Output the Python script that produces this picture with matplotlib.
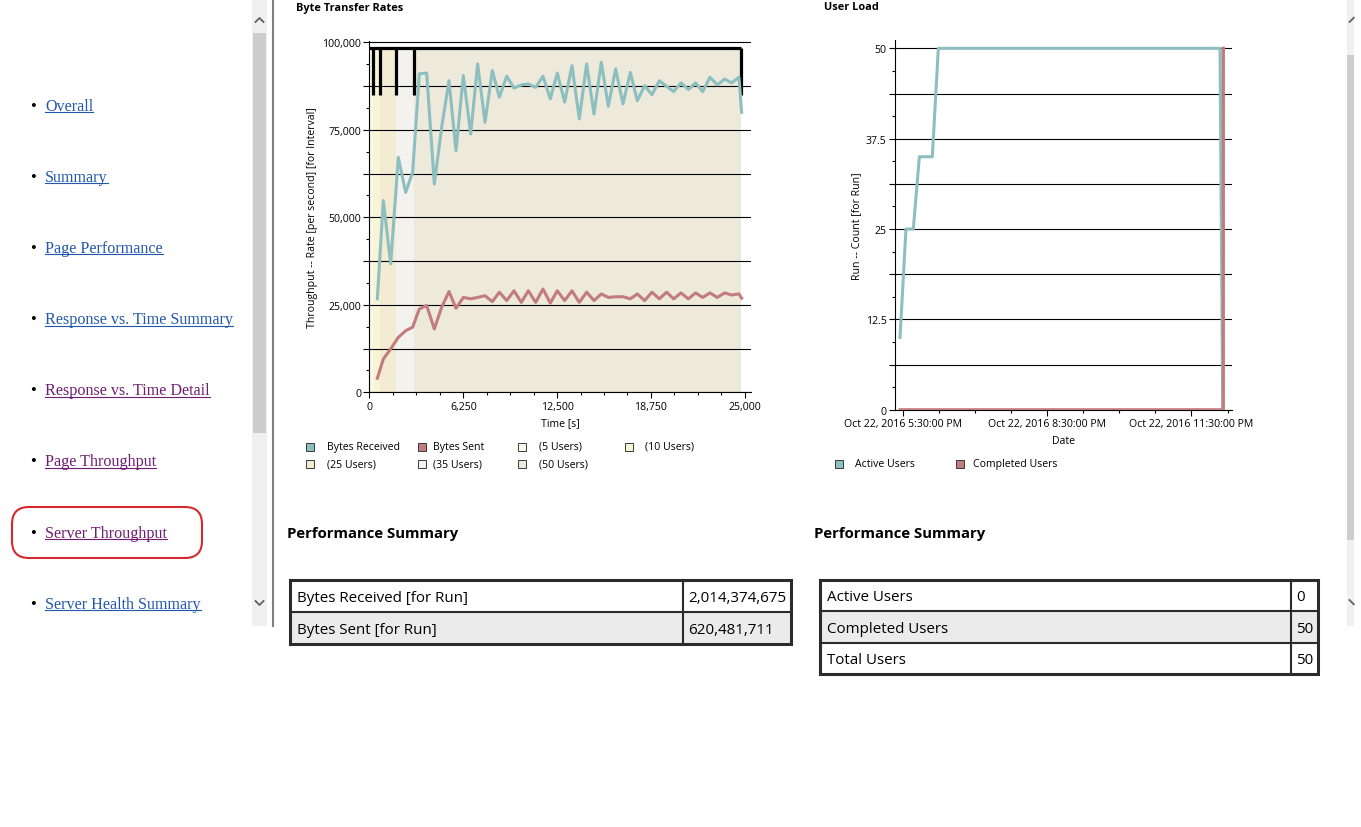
import numpy as np
import pandas as pd
import matplotlib
matplotlib.use("Agg")
import matplotlib.pyplot as plt
import matplotlib.dates as mdates
from matplotlib.patches import Rectangle, FancyBboxPatch
from matplotlib.ticker import MultipleLocator, FuncFormatter, FixedLocator

plt.rcParams['font.family'] = ['Open Sans', 'DejaVu Sans']

W, H = 1361, 828

# ---------- Byte Transfer Rates ----------
time_s = [522, 922, 1410, 1921, 2410, 2876, 3320, 3809, 4320, 4809,
          5297, 5764, 6252, 6741, 7207, 7696, 8185, 8651, 9140, 9629,
          10117, 10583, 11072, 11561, 12049, 12515, 13004, 13493, 13981, 14470,
          14959, 15447, 15914, 16402, 16891, 17380, 17846, 18335, 18823, 19312,
          19800, 20267, 20756, 21244, 21733, 22199, 22688, 23177, 23665, 24131,
          24620, 24798]
bytes_received = [26700, 54800, 36700, 67100, 57100, 62900, 91000, 91200, 59500, 75700,
                  89000, 69000, 90500, 73800, 93800, 77100, 91900, 84300, 90300, 86900,
                  87800, 88100, 87100, 90300, 83800, 91200, 82900, 93300, 78100, 93800,
                  79500, 94300, 81700, 92400, 82400, 91400, 83300, 87600, 85000, 89000,
                  87400, 85900, 88400, 86500, 88400, 85900, 90000, 87800, 89500, 88400,
                  90000, 80000]
bytes_sent = [4000, 9500, 12400, 15700, 17600, 18600, 23800, 24800, 18100, 24300,
              28800, 24000, 27100, 26700, 27100, 27600, 25900, 28600, 26200, 29000,
              25700, 29000, 25700, 29500, 25500, 29000, 26200, 29000, 25700, 28600,
              26200, 28100, 27100, 27300, 27300, 26700, 28100, 26200, 28600, 26700,
              28600, 26700, 28400, 26700, 28400, 27100, 28400, 27100, 28400, 27800,
              28100, 26900]

phase_labels = ["(5 Users)", "(10 Users)", "(25 Users)", "(35 Users)", "(50 Users)"]
phase_start = [0, 213, 700, 1786, 2985]
phase_end = [213, 700, 1786, 2985, 24773]
phase_colors = ['#FAF8EA', '#F8F5D6', '#F4EBD3', '#F3F2EE', '#EDE9DB']
marker_low, marker_top = 85000, 98500

# ---------- User Load ----------
active_times = ["2016-10-22 17:26:40", "2016-10-22 17:34:05", "2016-10-22 17:43:15",
                "2016-10-22 17:50:45", "2016-10-22 18:06:55", "2016-10-22 18:14:25",
                "2016-10-23 00:05:35", "2016-10-23 00:09:00"]
active_users = [10, 25, 25, 35, 35, 50, 50, 0]
completed_times = ["2016-10-22 17:26:40", "2016-10-23 00:09:35", "2016-10-23 00:09:40"]
completed_users = [0, 0, 50]

# ---------- summary tables ----------
left_rows = ["Bytes Received [for Run]", "Bytes Sent [for Run]"]
left_vals = [2014374675, 620481711]
right_rows = ["Active Users", "Completed Users", "Total Users"]
right_vals = [0, 50, 50]

nav_items = ["Overall", "Summary", "Page Performance", "Response vs. Time Summary",
             "Response vs. Time Detail", "Page Throughput", "Server Throughput",
             "Server Health Summary"]
nav_visited = [False, False, False, False, True, True, True, False]

teal = '#8DBFC1'
red = '#C27C7E'
FS = 7.6


def rect(l, t, r, b):
    return [l / W, 1 - b / H, (r - l) / W, (b - t) / H]


fig = plt.figure(figsize=(W / 100, H / 100), dpi=100)

page = fig.add_axes([0, 0, 1, 1])
page.set_xlim(0, W)
page.set_ylim(H, 0)
page.axis('off')
page.set_zorder(0)

# left navigation panel
nav_texts = []
for i, (name, vis) in enumerate(zip(nav_items, nav_visited)):
    base = 111 + 71.1 * i
    col = '#6F1E74' if vis else '#2258AC'
    page.text(30, base, "\u2022", fontsize=12, color='black', va='baseline',
              family='Liberation Serif')
    t = page.text(45, base, name, fontsize=11.6, color=col, va='baseline',
                  family='Liberation Serif')
    nav_texts.append((t, base))

page.add_patch(FancyBboxPatch((12, 508), 190, 51,
                              boxstyle="round,pad=0,rounding_size=17",
                              fill=False, edgecolor='#D42A2F', lw=1.5))

# scrollbars and divider
page.add_patch(Rectangle((251.7, 0), 15.6, 627, facecolor='#F0F0F0', lw=0))
page.add_patch(Rectangle((253.3, 34), 12.4, 400, facecolor='#CDCDCD', lw=0))
page.plot([255.5, 259.5, 263.5], [23, 19, 23], color='#606060', lw=1.3)
page.plot([255.5, 259.5, 263.5], [602, 606, 602], color='#606060', lw=1.3)
page.plot([273.3, 273.3], [0, 627], color='#808080', lw=1.5)

page.add_patch(Rectangle((1346.7, 0), 7.3, 627, facecolor='#F0F0F0', lw=0))
page.add_patch(Rectangle((1347.5, 56), 6.5, 485, facecolor='#CDCDCD', lw=0))
page.plot([1349.5, 1353.8], [23, 18.7], color='#606060', lw=1.3)
page.plot([1349.5, 1353.8], [601, 605.3], color='#606060', lw=1.3)

# chart titles
page.text(296, 8, "Byte Transfer Rates", fontsize=7.9, weight='bold', va='center')
page.text(824, 8, "User Load", fontsize=7.9, weight='bold', va='center')

# ---------- left chart ----------
ax1 = fig.add_axes(rect(369.5, 41.5, 750.5, 393.3))
ax1.set_zorder(1)
ax1.set_xlim(0, 25390)
ax1.set_ylim(0, 100500)
for s in ['top', 'right']:
    ax1.spines[s].set_visible(False)
for s in ['left', 'bottom']:
    ax1.spines[s].set_linewidth(0.8)

for t0, t1, c in zip(phase_start, phase_end, phase_colors):
    ax1.axvspan(t0, t1, ymin=0, ymax=marker_top / 100500, color=c, lw=0, zorder=1)

ax1.yaxis.set_major_locator(MultipleLocator(12500))
ax1.yaxis.set_minor_locator(MultipleLocator(6250))
ax1.yaxis.set_major_formatter(FuncFormatter(
    lambda v, p: f"{v:,.0f}" if v % 25000 == 0 else ""))
ax1.xaxis.set_major_locator(MultipleLocator(6250))
ax1.xaxis.set_minor_locator(MultipleLocator(1562.5))
ax1.xaxis.set_major_formatter(FuncFormatter(lambda v, p: f"{v:,.0f}"))
ax1.set_axisbelow('line')
ax1.grid(axis='y', color='black', lw=0.8)

ax1.vlines(phase_end, marker_low, marker_top, color='black', lw=2.3, zorder=2.2)
ax1.hlines(marker_top, 0, phase_end[-1], color='black', lw=2.3, zorder=2.2)

ax1.plot(time_s, bytes_received, color=teal, lw=2.2, zorder=3)
ax1.plot(time_s, bytes_sent, color=red, lw=2.2, zorder=3)

ax1.tick_params(which='major', direction='out', length=4, width=0.8,
                labelsize=FS, pad=2)
ax1.tick_params(which='minor', direction='out', length=2, width=0.8)
ax1.set_ylabel("Throughput -- Rate [per second] [for Interval]", fontsize=FS)
ax1.yaxis.set_label_coords((318 - 369.5) / 381, 0.5)
ax1.set_xlabel("Time [s]", fontsize=FS)
ax1.xaxis.set_label_coords(0.5, -(418.5 - 393.3) / 351.8)

# ---------- right chart ----------
ax2 = fig.add_axes(rect(895, 41.4, 1231.7, 410.7))
ax2.set_zorder(1)
ax2.set_xlim(pd.Timestamp("2016-10-22 17:20:24"), pd.Timestamp("2016-10-23 00:20:10"))
ax2.set_ylim(0, 51.1)
for s in ['top', 'right']:
    ax2.spines[s].set_visible(False)
for s in ['left', 'bottom']:
    ax2.spines[s].set_linewidth(0.8)

ax2.yaxis.set_major_locator(MultipleLocator(6.25))
ax2.yaxis.set_minor_locator(MultipleLocator(3.125))
ax2.yaxis.set_major_formatter(FuncFormatter(
    lambda v, p: f"{v:g}" if abs(v / 12.5 - round(v / 12.5)) < 1e-6 else ""))

major_dt = pd.date_range("2016-10-22 17:30", periods=3, freq="3h")
minor_dt = pd.date_range("2016-10-22 17:30", "2016-10-23 00:20", freq="45min")
ax2.xaxis.set_major_locator(FixedLocator(mdates.date2num(major_dt)))
ax2.xaxis.set_minor_locator(FixedLocator(mdates.date2num(minor_dt)))


def fmt_date(x, p):
    d = mdates.num2date(x)
    h = d.hour % 12 or 12
    ap = "PM" if d.hour >= 12 else "AM"
    return f"{d:%b} {d.day}, {d.year} {h}:{d.minute:02d}:{d.second:02d} {ap}"


ax2.xaxis.set_major_formatter(FuncFormatter(fmt_date))
ax2.set_axisbelow('line')
ax2.grid(axis='y', color='black', lw=0.8)

ax2.plot(pd.to_datetime(completed_times), completed_users, color=red, lw=2.2, zorder=3)
ax2.plot(pd.to_datetime(active_times), active_users, color=teal, lw=2.2, zorder=3)
ax2.plot(pd.to_datetime(completed_times[1:]), completed_users[1:], color=red, lw=2.2,
         zorder=3.1)

ax2.tick_params(which='major', direction='out', length=4, width=0.8,
                labelsize=FS, pad=2)
ax2.tick_params(which='minor', direction='out', length=2, width=0.8)
ax2.set_ylabel("Run -- Count [for Run]", fontsize=FS)
ax2.yaxis.set_label_coords((862 - 895) / 336.7, 0.5)
ax2.set_xlabel("Date", fontsize=FS)
ax2.xaxis.set_label_coords(0.5, -(436 - 410.7) / 369.3)

# ---------- legends ----------
def legend_item(x, y, color, label, text_x):
    page.add_patch(Rectangle((x, y - 4), 8, 8, facecolor=color,
                             edgecolor='#3A3A3A', lw=0.7))
    page.text(text_x, y, label, fontsize=FS, va='center')


left_leg = [("Bytes Received", teal), ("Bytes Sent", red)] + \
    list(zip(phase_labels, phase_colors))
leg_cols = [(306.5, 327.5), (418, 433), (518, 539), (625, 645)]
for k, (lab, c) in enumerate(left_leg):
    px, tx = leg_cols[k % 4]
    py = 447.5 if k < 4 else 465
    legend_item(px, py, c, lab, tx)

legend_item(835, 464.5, teal, "Active Users", 855)
legend_item(956.5, 464.5, red, "Completed Users", 973)

# ---------- summary tables ----------
def draw_table(x0, x1, xc, y0, rh, labels, values):
    n = len(labels)
    for i, (lab, val) in enumerate(zip(labels, values)):
        top = y0 + i * rh
        bg = '#EBEBEB' if i % 2 == 1 else 'white'
        page.add_patch(Rectangle((x0, top), x1 - x0, rh, facecolor=bg, lw=0))
        page.text(x0 + 7, top + rh / 2 + 1.5, lab, fontsize=10.9, va='center')
        page.text(xc + 5, top + rh / 2 + 1.5, f"{val:,}", fontsize=10.9, va='center')
        if i > 0:
            page.plot([x0, x1], [top, top], color='#2B2B2B', lw=1.5)
    page.plot([xc, xc], [y0, y0 + n * rh], color='#2B2B2B', lw=1.5)
    page.add_patch(Rectangle((x0, y0), x1 - x0, n * rh, fill=False,
                             edgecolor='#2B2B2B', lw=2.2))


page.text(287, 534, "Performance Summary", fontsize=10.7, weight='bold', va='center')
page.text(814, 534, "Performance Summary", fontsize=10.7, weight='bold', va='center')
draw_table(290.5, 791, 683, 580.5, 32.3, left_rows, left_vals)
draw_table(820, 1318.5, 1291, 580.5, 31.6, right_rows, right_vals)

# underline the nav links
fig.canvas.draw()
renderer = fig.canvas.get_renderer()
for t, base in nav_texts:
    bb = t.get_window_extent(renderer)
    page.plot([bb.x0, bb.x1], [base + 2.2, base + 2.2], color=t.get_color(), lw=0.8)

fig.savefig("out.png", dpi=100)
